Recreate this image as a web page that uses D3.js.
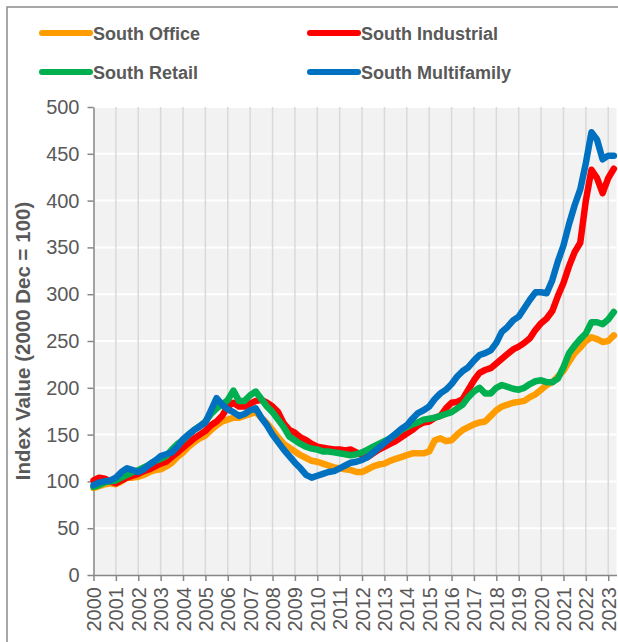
<!DOCTYPE html>
<html>
<head>
<meta charset="utf-8">
<script src="https://cdn.jsdelivr.net/npm/d3@7"></script>
<style>
  body { margin: 0; background: #fff; }
  text { font-family: "Liberation Sans", Arial, sans-serif; }
</style>
</head>
<body>
<div id="chart"></div>
<script>
// Chart size
const width = 618,
      height = 642;

// Quarterly index values, 2000 Q1 .. 2023 Q2
const quarters = d3.range(94).map(i => 2000 + i / 4);

const office = [
  93, 95, 97, 98,   97, 100, 104, 104,   105, 107, 110, 112,   113, 116, 120, 126,
  131, 137, 142, 146,   149, 155, 160, 164,   166, 168, 168, 170,   172, 174, 168, 162,
  155, 147, 140, 136,   132, 128, 125, 122,   121, 119, 117, 115,   114, 113, 112, 110,
  110, 113, 116, 118,   119, 122, 124, 126,   128, 130, 130, 130,   132, 144, 146, 143,
  144, 150, 155, 158,   161, 163, 164, 170,   176, 180, 182, 184,   185, 186, 190, 193,
  198, 203, 206, 212,   218, 228, 237, 243,   250, 254, 252, 249,   250, 256
];
const industrial = [
  101, 104, 103, 100,   98, 101, 104, 106,   108, 111, 113, 116,   119, 121, 126, 131,
  136, 141, 146, 150,   154, 160, 164, 170,   180, 184, 180, 180,   183, 186, 187, 184,
  180, 174, 162, 155,   152, 147, 144, 140,   137, 136, 135, 134,   134, 133, 134, 131,
  128, 126, 130, 134,   137, 140, 143, 147,   151, 155, 160, 163,   164, 168, 170, 178,
  184, 185, 188, 198,   208, 216, 219, 221,   226, 231, 236, 241,   244, 248, 253, 262,
  269, 274, 282, 298,   312, 330, 345, 355,   400, 433, 424, 408,   424, 434
];
const retail = [
  94, 96, 99, 100,   101, 104, 107, 110,   112, 115, 118, 122,   124, 127, 134, 140,
  144, 150, 155, 159,   164, 172, 178, 182,   187, 197, 186, 186,   192, 196, 188, 180,
  174, 166, 158, 148,   144, 140, 137, 135,   134, 132, 132, 131,   130, 129, 128, 129,
  131, 134, 137, 140,   143, 146, 150, 155,   158, 161, 163, 166,   167, 168, 170, 172,
  174, 178, 182, 190,   196, 200, 194, 194,   200, 203, 201, 199,   198, 200, 204, 207,
  208, 206, 206, 210,   222, 237, 245, 252,   258, 270, 270, 268,   273, 281
];
const multifamily = [
  96, 99, 100, 101,   104, 110, 114, 112,   110, 113, 118, 122,   127, 129, 131, 137,
  145, 150, 155, 159,   163, 176, 189, 182,   177, 174, 170, 172,   176, 178, 168, 160,
  150, 142, 134, 127,   120, 114, 107, 104,   106, 108, 110, 111,   114, 117, 120, 121,
  123, 126, 131, 136,   141, 146, 151, 156,   160, 167, 173, 176,   180, 188, 194, 198,
  204, 212, 218, 222,   229, 235, 237, 240,   248, 260, 265, 272,   276, 285, 294, 302,
  302, 301, 315, 335,   352, 375, 395, 412,   440, 473, 465, 444,   448, 448
];

const seriesNames = ["South Office", "South Industrial", "South Retail", "South Multifamily"];
const seriesColors = ["#ff9c00", "#ff0000", "#00b050", "#0070c0"];
const seriesValues = [office, industrial, retail, multifamily];

const years = d3.range(2000, 2024);
const yTicks = d3.range(0, 501, 50);

// Plot area
const plot = { left: 93.5, right: 616.5, top: 107, bottom: 575 };

const svg = d3.select("#chart").append("svg")
    .attr("width", width)
    .attr("height", height);

// Outer chart frame
svg.append("rect")
    .attr("x", 7).attr("y", 7)
    .attr("width", 640).attr("height", 660)
    .style("fill", "#fff")
    .style("stroke", "#8c8c8c")
    .style("stroke-width", 1.5);

const x = d3.scaleLinear()
    .domain([2000, 2023.37])
    .range([plot.left, plot.right]);

const y = d3.scaleLinear()
    .domain([0, 500])
    .range([plot.bottom, plot.top]);

// Plot background
svg.append("rect")
    .attr("x", plot.left).attr("y", plot.top)
    .attr("width", plot.right - plot.left)
    .attr("height", plot.bottom - plot.top)
    .style("fill", "#f2f2f2");

// Horizontal gridlines (white)
svg.append("g")
    .selectAll("line")
    .data(yTicks.filter(d => d > 0))
    .enter().append("line")
    .attr("x1", plot.left).attr("x2", plot.right)
    .attr("y1", d => y(d)).attr("y2", d => y(d))
    .style("stroke", "#ffffff")
    .style("stroke-width", 2);

// Vertical gridlines (light gray)
svg.append("g")
    .selectAll("line")
    .data(years.filter(d => d > 2000))
    .enter().append("line")
    .attr("x1", d => x(d)).attr("x2", d => x(d))
    .attr("y1", plot.top).attr("y2", plot.bottom)
    .style("stroke", "#d9d9d9")
    .style("stroke-width", 1.5);

// Axes
const xAxis = svg.append("g")
    .attr("transform", `translate(0,${plot.bottom})`)
    .call(d3.axisBottom(x).tickValues(years).tickFormat(d3.format("d")).tickSize(6).tickSizeOuter(0));

xAxis.selectAll("text")
    .attr("transform", "rotate(-90)")
    .attr("x", -12)
    .attr("y", 0)
    .attr("dy", "0.35em")
    .style("text-anchor", "end");

const yAxis = svg.append("g")
    .attr("transform", `translate(${plot.left},0)`)
    .call(d3.axisLeft(y).tickValues(yTicks).tickSize(6).tickSizeOuter(0));

yAxis.selectAll("text").attr("x", -14);

svg.selectAll(".domain, .tick line")
    .style("stroke", "#868686")
    .style("stroke-width", 1.5);

svg.selectAll(".tick text")
    .style("font-size", "20px")
    .style("fill", "#595959");

// Y axis title
svg.append("text")
    .attr("transform", `translate(30,${(plot.top + plot.bottom) / 2}) rotate(-90)`)
    .attr("text-anchor", "middle")
    .style("font-size", "20.5px")
    .style("font-weight", "bold")
    .style("fill", "#595959")
    .text("Index Value (2000 Dec = 100)");

// Series lines
const line = d3.line()
    .x((d, i) => x(quarters[i]))
    .y(d => y(d));

svg.append("g")
    .selectAll("path")
    .data(seriesValues)
    .enter().append("path")
    .attr("d", line)
    .style("fill", "none")
    .style("stroke", (d, i) => seriesColors[i])
    .style("stroke-width", 6.5)
    .style("stroke-linejoin", "round")
    .style("stroke-linecap", "round");

// Legend
const legendPos = [[42, 33], [310, 33], [42, 72], [310, 72]];
const legend = svg.append("g").attr("class", "legend");

seriesNames.forEach((name, i) => {
    const [lx, ly] = legendPos[i];
    legend.append("line")
        .attr("x1", lx).attr("x2", lx + 48)
        .attr("y1", ly).attr("y2", ly)
        .style("stroke", seriesColors[i])
        .style("stroke-width", 6)
        .style("stroke-linecap", "round");
    legend.append("text")
        .attr("x", lx + 51)
        .attr("y", ly + 6.5)
        .style("font-size", "18px")
        .style("font-weight", "bold")
        .style("fill", "#595959")
        .text(name);
});
</script>
</body>
</html>
